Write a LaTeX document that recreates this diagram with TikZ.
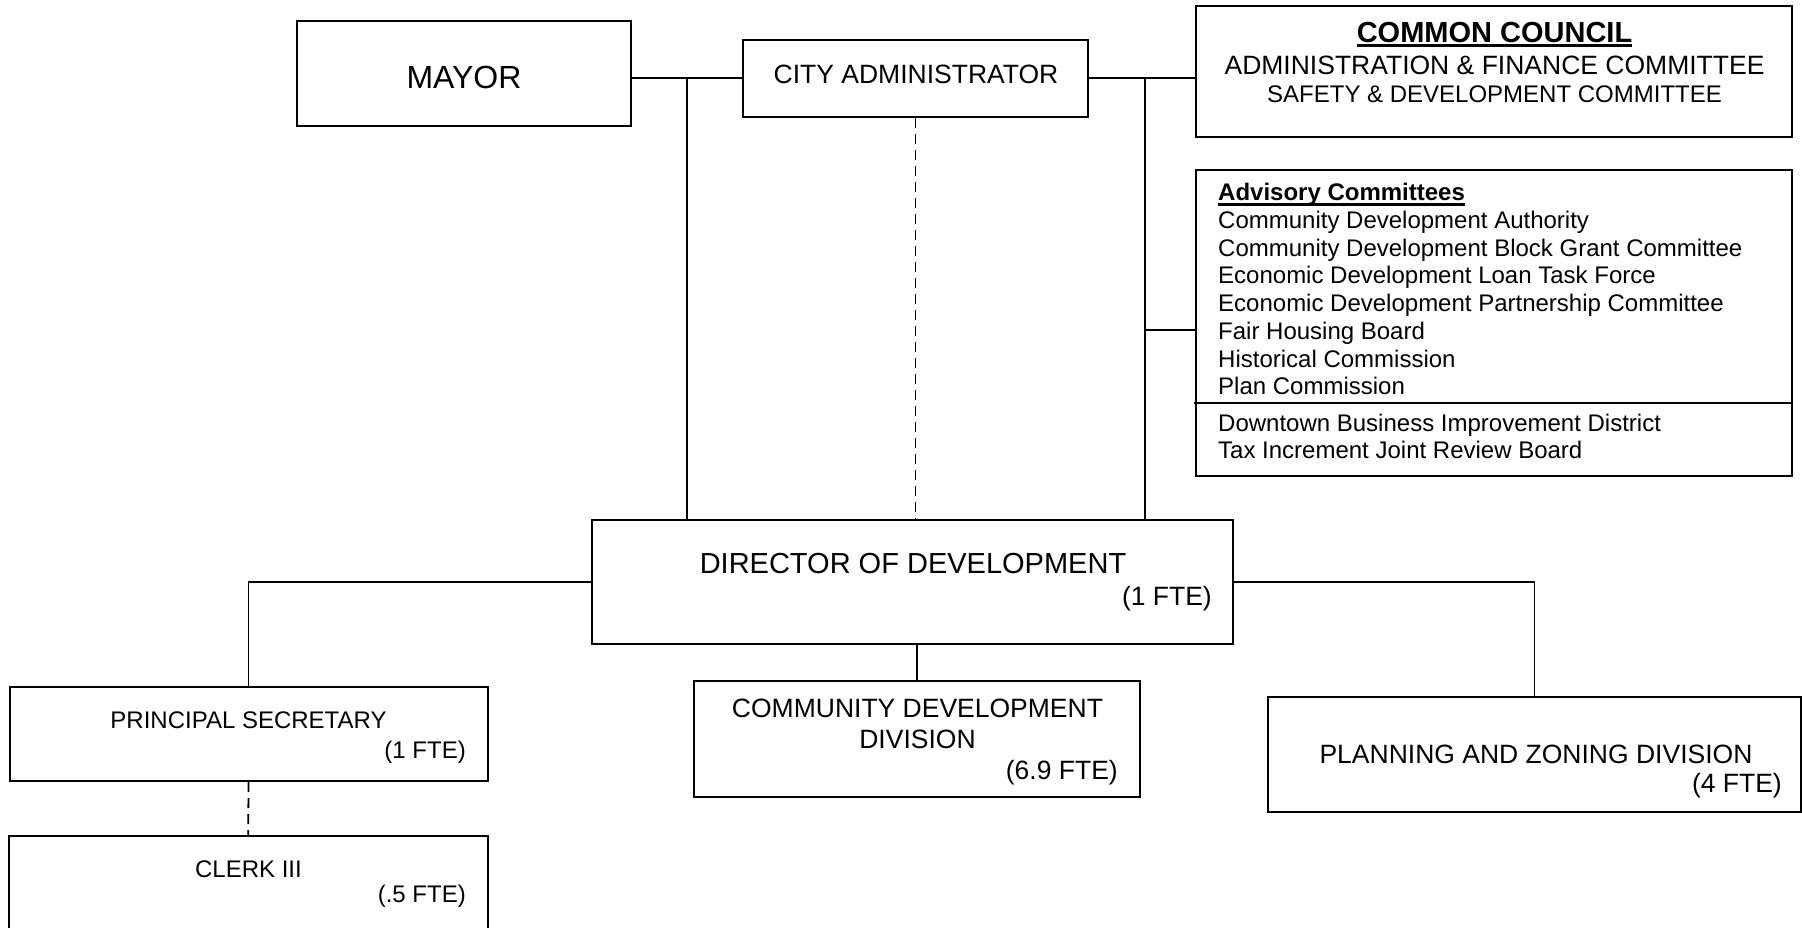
\documentclass[tikz,border=0pt]{standalone}
\usepackage{fontspec}
\setmainfont{Liberation Sans}
\begin{document}
\begin{tikzpicture}[x=1pt,y=-1pt,
  box/.style={draw, line width=2pt, inner sep=0pt, rectangle},
  conn/.style={line width=1.8pt},
  dashconn/.style={line width=1.8pt, dash pattern=on 10pt off 6pt},
  tA/.style={inner sep=0pt, font=\fontsize{24}{27}\selectfont},
  tB/.style={inner sep=0pt, font=\fontsize{26.5}{30}\selectfont},
  tC/.style={inner sep=0pt, font=\fontsize{29}{33}\selectfont},
  tM/.style={inner sep=0pt, font=\fontsize{32}{36}\selectfont},
  ul/.style={line width=2.4pt}]
\useasboundingbox (0,0) rectangle (1802,927);
% boxes
\node[box, minimum width=334pt, minimum height=104.5pt] (mayor) at (464,73.25) {};
\node[box, minimum width=345pt, minimum height=77.5pt] (admin) at (915.5,78.25) {};
\node[box, minimum width=596pt, minimum height=131.5pt] (council) at (1494,71.25) {};
\node[box, minimum width=596pt, minimum height=306.5pt] (advisory) at (1494,322.75) {};
\node[box, minimum width=641pt, minimum height=124pt] (director) at (912.5,582) {};
\node[box, minimum width=478pt, minimum height=94pt] (ps) at (248.5,734) {};
\node[box, minimum width=479.5pt, minimum height=99pt] (clerk) at (248.25,885.5) {};
\node[box, minimum width=446pt, minimum height=116pt] (cd) at (917,739) {};
\node[box, minimum width=533pt, minimum height=115pt] (planning) at (1534.5,754.5) {};
% divider in advisory box
\coordinate (dvL) at (1194,403);
\draw[line width=2pt] (dvL) -- (dvL -| advisory.east);
% connectors
\coordinate (j1) at (687,78.25);
\coordinate (j2) at (1145,78.25);
\coordinate (j3) at (1145,330);
\draw[conn] (mayor.east |- admin.west) -- (admin.west);
\draw[conn] (admin.east) -- (admin.east -| council.west);
\draw[conn] (j1) -- (j1 |- director.north);
\draw[conn] (j2) -- (j2 |- director.north);
\draw[conn] (j3) -- (j3 -| advisory.west);
\draw[dashconn] (admin.south) -- (admin.south |- director.north);
\draw[conn] (director.west) -| (ps.north);
\draw[conn] (director.east) -| (planning.north);
\draw[conn] (director.south -| cd.north) -- (cd.north);
\draw[dashconn] (ps.south) -- (clerk.north);
% texts
\node[tM, anchor=base] (tmayor) at (464,88) {MAYOR};
\node[tB, anchor=base] (tadmin) at (916,83) {CITY ADMINISTRATOR};
\node[tC, anchor=base, font=\fontsize{29}{33}\selectfont\bfseries] (tcc) at (1494.5,42) {COMMON COUNCIL};
\draw[ul] ([yshift=-3.5pt]tcc.base west) -- ([yshift=-3.5pt]tcc.base east);
\node[tA, anchor=base] (taf) at (1494.5,74) {\fontsize{26.5}{30}\selectfont ADMINISTRATION \& FINANCE COMMITTEE};
\node[tA, anchor=base] (tsd) at (1494.5,102.5) {SAFETY \& DEVELOPMENT COMMITTEE};
\node[tA, anchor=base west, font=\fontsize{24}{27}\selectfont\bfseries] (adv0) at (1218,200.5) {Advisory Committees};
\draw[ul, line width=2.2pt] ([yshift=-4pt]adv0.base west) -- ([yshift=-4pt]adv0.base east);
\node[tA, anchor=base west] (adv1) at (1218,228.3) {Community Development Authority};
\node[tA, anchor=base west] (adv2) at (1218,256) {Community Development Block Grant Committee};
\node[tA, anchor=base west] (adv3) at (1218,283.8) {Economic Development Loan Task Force};
\node[tA, anchor=base west] (adv4) at (1218,311.5) {Economic Development Partnership Committee};
\node[tA, anchor=base west] (adv5) at (1218,339.3) {Fair Housing Board};
\node[tA, anchor=base west] (adv6) at (1218,367) {Historical Commission};
\node[tA, anchor=base west] (adv7) at (1218,394.8) {Plan Commission};
\node[tA, anchor=base west] (adv8) at (1218,431) {Downtown Business Improvement District};
\node[tA, anchor=base west] (adv9) at (1218,458.5) {Tax Increment Joint Review Board};
\node[tC, anchor=base] (tdir) at (913,573) {DIRECTOR OF DEVELOPMENT};
\node[tB, anchor=base east] (tdirf) at (1212,605) {(1 FTE)};
\node[tA, anchor=base] (tps) at (248.5,728) {PRINCIPAL SECRETARY};
\node[tA, anchor=base east] (tpsf) at (466,758) {(1 FTE)};
\node[tA, anchor=base] (tclerk) at (248.5,877) {CLERK III};
\node[tA, anchor=base east] (tclerkf) at (466,902) {(.5 FTE)};
\node[tB, anchor=base] (tcd1) at (917.5,717) {COMMUNITY DEVELOPMENT};
\node[tB, anchor=base] (tcd2) at (917.5,748) {DIVISION};
\node[tB, anchor=base east] (tcdf) at (1118,779) {(6.9 FTE)};
\node[tB, anchor=base] (tpl) at (1536,763) {PLANNING AND ZONING DIVISION};
\node[tB, anchor=base east] (tplf) at (1782,792) {(4 FTE)};
\end{tikzpicture}
\end{document}
